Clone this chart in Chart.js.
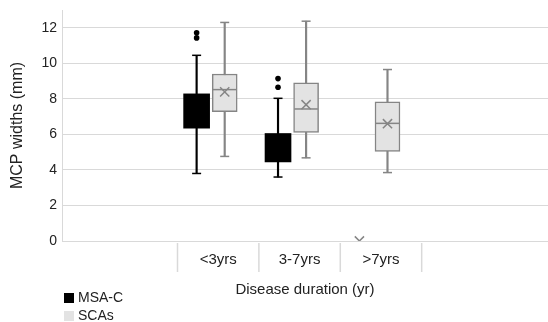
<!DOCTYPE html>
<html>
<head>
<meta charset="utf-8">
<script src="https://cdn.jsdelivr.net/npm/chart.js@4.4.1/dist/chart.umd.min.js"></script>
<style>
  body { margin: 0; background: #fff; }
  #wrap { position: relative; width: 548px; height: 322px; }
  .legend { position: absolute; left: 64px; font: 14px "Liberation Sans", Arial, sans-serif; color: #222; line-height: 18px; }
  .legend span { display: inline-block; width: 10px; height: 10px; margin-right: 4px; vertical-align: -1px; }
</style>
</head>
<body>
<div id="wrap">
  <canvas id="chart" width="548" height="322"></canvas>
  <div class="legend" style="top:288px"><span style="background:#000"></span>MSA-C</div>
  <div class="legend" style="top:306px"><span style="background:#e3e3e3"></span>SCAs</div>
</div>
<script>
const categories = ['<3yrs', '3-7yrs', '>7yrs'];

// MSA-C
const msaMin = [3.8, 3.6, null];
const msaQ1 = [6.35, 4.45, null];
const msaQ3 = [8.28, 6.05, null];
const msaMax = [10.45, 8.03, null];
const msaMean = [null, null, 0];
const msaOutliers = [[11.72, 11.43], [9.14, 8.65], []];

// SCAs
const scaMin = [4.76, 4.68, 3.85];
const scaQ1 = [7.28, 6.11, 5.04];
const scaMedian = [8.52, 7.43, 6.62];
const scaQ3 = [9.4, 8.9, 7.83];
const scaMax = [12.3, 12.37, 9.65];
const scaMean = [8.39, 7.67, 6.6];

const yTicks = [0, 2, 4, 6, 8, 10, 12];

const msaShift = -0.265;
const scaShift = 0.08;
const font = '"Liberation Sans", Arial, sans-serif';
const grey = '#858585';

function pts(arr, shift) {
    const out = [];
    arr.forEach((v, i) => { if (v !== null) out.push({ x: i + shift, y: v }); });
    return out;
}
function ranges(lo, hi, shift) {
    const out = [];
    lo.forEach((v, i) => { if (v !== null) out.push({ x: i + shift, y: [v, hi[i]] }); });
    return out;
}
function outlierPts(list, shift) {
    const out = [];
    list.forEach((vals, i) => vals.forEach(v => out.push({ x: i + shift, y: v })));
    return out;
}

const barCommon = { type: 'bar', grouped: false, barPercentage: 1, categoryPercentage: 1, borderSkipped: false };

// divider lines under the x axis between categories
const dividers = {
    id: 'dividers',
    afterDraw(chart) {
        const ctx = chart.ctx;
        const xs = chart.scales.x;
        const bottom = chart.chartArea.bottom;
        ctx.save();
        ctx.strokeStyle = '#d9d9d9';
        ctx.lineWidth = 1.5;
        for (let i = 0; i <= categories.length; i++) {
            const px = xs.getPixelForValue(i - 0.5);
            ctx.beginPath();
            ctx.moveTo(px, bottom + 2);
            ctx.lineTo(px, bottom + 31);
            ctx.stroke();
        }
        ctx.restore();
    }
};

new Chart(document.getElementById('chart'), {
    type: 'scatter',
    data: {
        datasets: [
            { ...barCommon, label: 'MSA-C whisker', data: ranges(msaMin, msaMax, msaShift), backgroundColor: '#000', maxBarThickness: 1.5, order: 5 },
            { ...barCommon, label: 'SCAs whisker', data: ranges(scaMin, scaMax, scaShift), backgroundColor: grey, maxBarThickness: 1.5, order: 5 },
            { ...barCommon, label: 'MSA-C', data: ranges(msaQ1, msaQ3, msaShift), backgroundColor: '#000', borderWidth: 0, maxBarThickness: 26, order: 4 },
            { ...barCommon, label: 'SCAs', data: ranges(scaQ1, scaQ3, scaShift), backgroundColor: '#e3e3e3', borderColor: grey, borderWidth: 1.5, maxBarThickness: 25, order: 4 },
            { label: 'MSA-C caps', data: pts(msaMin, msaShift).concat(pts(msaMax, msaShift)), pointStyle: 'line', pointRadius: 4.5, borderColor: '#000', borderWidth: 1.5, order: 3 },
            { label: 'SCAs caps', data: pts(scaMin, scaShift).concat(pts(scaMax, scaShift)), pointStyle: 'line', pointRadius: 4.5, borderColor: grey, borderWidth: 1.5, order: 3 },
            { label: 'SCAs median', data: pts(scaMedian, scaShift), pointStyle: 'line', pointRadius: 11.8, borderColor: grey, borderWidth: 1.5, order: 2 },
            { label: 'SCAs mean', data: pts(scaMean, scaShift), pointStyle: 'crossRot', pointRadius: 6.5, borderColor: grey, borderWidth: 1.5, order: 1 },
            { label: 'MSA-C mean', data: pts(msaMean, msaShift), pointStyle: 'crossRot', pointRadius: 6.5, borderColor: grey, borderWidth: 1.5, clip: 0, order: 1 },
            { label: 'MSA-C outliers', data: outlierPts(msaOutliers, msaShift), pointStyle: 'circle', pointRadius: 2.8, backgroundColor: '#000', borderWidth: 0, order: 1 }
        ]
    },
    options: {
        responsive: false,
        animation: false,
        devicePixelRatio: 1,
        layout: { autoPadding: false, padding: { top: 10, left: 0, right: 0, bottom: 0 } },
        plugins: { legend: { display: false }, tooltip: { enabled: false } },
        scales: {
            x: {
                type: 'linear',
                offset: false,
                min: -1.919,
                max: 4.052,
                afterBuildTicks: s => { s.ticks = categories.map((c, i) => ({ value: i })); },
                afterFit: s => { s.height = 81; s.paddingLeft = 0; s.paddingRight = 0; },
                grid: { display: false, drawTicks: false },
                border: { display: false },
                ticks: {
                    callback: v => categories[v],
                    padding: 10,
                    autoSkip: false,
                    maxRotation: 0,
                    color: '#222',
                    font: { family: font, size: 15 }
                },
                title: {
                    display: true,
                    text: 'Disease duration (yr)',
                    color: '#222',
                    padding: { top: 0, bottom: 23 },
                    font: { family: font, size: 15 }
                }
            },
            y: {
                min: 0,
                max: 13,
                afterFit: s => { s.width = 62; s.paddingTop = 0; s.paddingBottom = 0; },
                afterBuildTicks: s => { s.ticks = yTicks.map(v => ({ value: v })); },
                grid: { color: '#d9d9d9', lineWidth: 1, drawTicks: false },
                border: { display: true, color: '#d9d9d9' },
                ticks: {
                    padding: 5,
                    color: '#222',
                    font: { family: font, size: 14 }
                },
                title: {
                    display: true,
                    text: 'MCP widths (mm)',
                    color: '#222',
                    padding: { top: 8, bottom: 0 },
                    font: { family: font, size: 16 }
                }
            }
        }
    },
    plugins: [dividers]
});
</script>
</body>
</html>
